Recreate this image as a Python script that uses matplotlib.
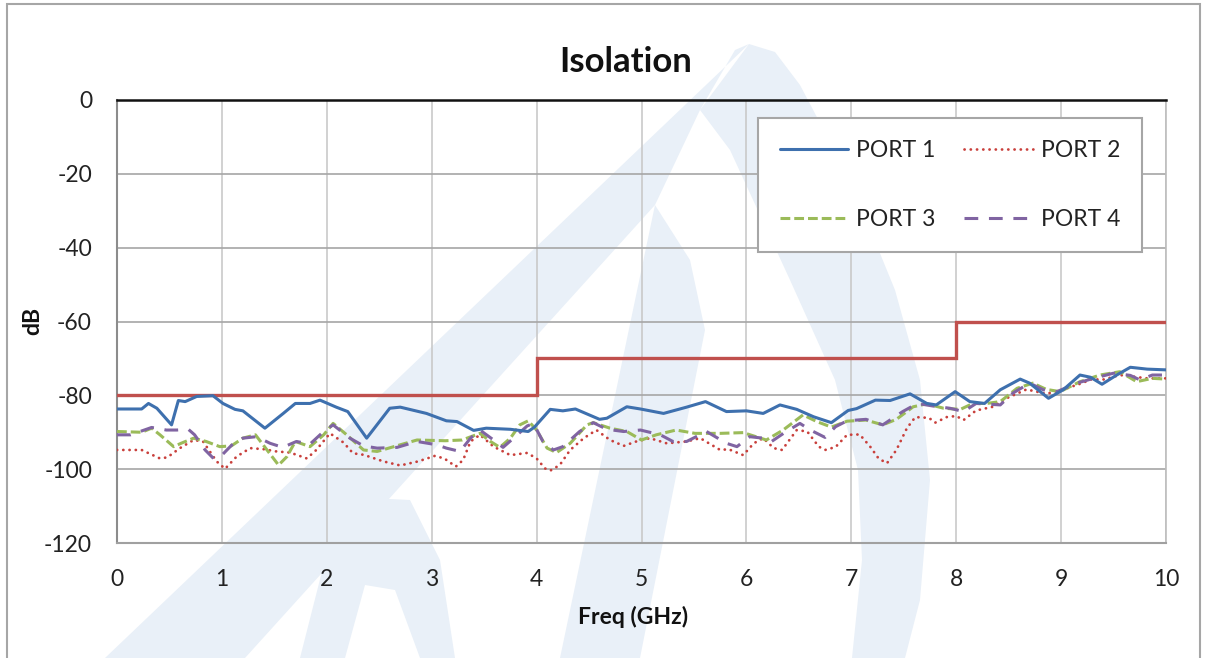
import matplotlib
matplotlib.use("Agg")
import matplotlib.pyplot as plt
from matplotlib.patches import Polygon, Rectangle

# ---------------- data ----------------
title = "Isolation"
x_label = "Freq (GHz)"
y_label = "dB"
x_ticks = [0, 1, 2, 3, 4, 5, 6, 7, 8, 9, 10]
y_ticks = [0, -20, -40, -60, -80, -100, -120]

limit_f = [0, 4, 4, 8, 8, 10]
limit_db = [-80, -80, -70, -70, -60, -60]

port1_f = [0.0, 0.235, 0.30, 0.38, 0.52, 0.585, 0.65, 0.76, 0.915, 1.01, 1.125, 1.20, 1.41, 1.585,
           1.70, 1.84, 1.935, 2.09, 2.20, 2.38, 2.44, 2.60, 2.70, 2.95, 3.14, 3.24, 3.40, 3.52, 3.75,
           3.92, 3.98, 4.13, 4.25, 4.37, 4.60, 4.67, 4.86, 4.99, 5.21, 5.43, 5.61, 5.81, 6.00, 6.16,
           6.32, 6.48, 6.64, 6.81, 6.97, 7.05, 7.23, 7.37, 7.56, 7.72, 7.81, 7.99, 8.13, 8.27, 8.42,
           8.61, 8.70, 8.88, 9.02, 9.18, 9.28, 9.39, 9.53, 9.66, 9.82, 10.0]
port1_db = [-83.7, -83.7, -82.2, -83.5, -88.0, -81.4, -81.7, -80.3, -80.1, -82.2, -83.8, -84.2, -88.9, -84.9,
            -82.2, -82.2, -81.3, -83.2, -84.4, -91.6, -89.4, -83.5, -83.2, -84.9, -86.9, -87.1, -89.5, -88.9, -89.2,
            -89.8, -88.6, -83.8, -84.2, -83.7, -86.5, -86.2, -83.1, -83.7, -84.9, -83.2, -81.7, -84.4, -84.2, -84.9,
            -82.6, -83.8, -85.8, -87.4, -84.1, -83.6, -81.3, -81.4, -79.6, -82.2, -82.6, -79.0, -81.7, -82.2, -78.5,
            -75.6, -76.7, -80.8, -78.5, -74.5, -75.1, -77.0, -74.5, -72.4, -72.9, -73.1]

port2_f = [0.0, 0.235, 0.41, 0.48, 0.60, 0.73, 0.82, 0.95, 1.03, 1.14, 1.27, 1.40, 1.52, 1.65, 1.81, 1.90,
           2.03, 2.16, 2.25, 2.35, 2.54, 2.70, 2.87, 3.03, 3.12, 3.23, 3.30, 3.37, 3.46, 3.59, 3.75, 3.91,
           4.00, 4.08, 4.13, 4.22, 4.32, 4.45, 4.57, 4.70, 4.83, 4.95, 5.08, 5.24, 5.43, 5.56, 5.75, 5.83,
           5.97, 6.07, 6.16, 6.26, 6.34, 6.48, 6.58, 6.69, 6.75, 6.85, 6.96, 7.08, 7.18, 7.26, 7.34, 7.43,
           7.53, 7.61, 7.74, 7.80, 7.91, 8.00, 8.07, 8.19, 8.35, 8.48, 8.67, 8.86, 9.02, 9.21, 9.28, 9.41,
           9.56, 9.68, 9.82, 10.0]
port2_db = [-94.8, -94.8, -97.1, -96.8, -94.3, -92.1, -92.5, -97.9, -99.9, -96.6, -94.3, -94.6, -95.2, -95.5, -97.1, -94.8,
            -90.3, -92.8, -95.7, -96.1, -97.9, -99.0, -97.9, -96.4, -97.1, -99.3, -97.5, -92.5, -90.7, -93.9, -96.2, -95.6,
            -97.1, -99.8, -100.4, -98.9, -94.8, -91.6, -89.4, -92.1, -93.7, -92.5, -91.6, -93.0, -92.5, -91.6, -94.8, -94.6,
            -96.2, -93.0, -91.6, -94.3, -94.8, -89.4, -89.8, -93.9, -94.8, -94.0, -90.7, -90.6, -93.9, -97.1, -98.4, -94.8,
            -88.9, -85.9, -86.1, -87.4, -85.9, -85.6, -86.7, -84.1, -83.1, -80.8, -78.4, -79.6, -78.4, -76.6, -75.7, -75.7,
            -74.5, -74.9, -75.4, -75.4]

port3_f = [0.0, 0.235, 0.33, 0.41, 0.54, 0.61, 0.73, 0.85, 0.98, 1.09, 1.20, 1.32, 1.43, 1.54, 1.62, 1.70,
           1.84, 1.97, 2.06, 2.19, 2.35, 2.48, 2.70, 2.86, 3.13, 3.29, 3.46, 3.56, 3.65, 3.75, 3.84, 3.92,
           4.00, 4.10, 4.19, 4.32, 4.48, 4.54, 4.70, 4.86, 5.00, 5.14, 5.33, 5.51, 5.75, 5.97, 6.19, 6.35,
           6.54, 6.67, 6.81, 6.96, 7.14, 7.30, 7.43, 7.59, 7.72, 7.88, 8.04, 8.16, 8.29, 8.42, 8.58, 8.73,
           8.86, 8.99, 9.18, 9.37, 9.56, 9.72, 9.87, 10.0]
port3_db = [-89.8, -90.0, -88.9, -90.7, -93.9, -93.0, -91.6, -92.5, -93.9, -93.7, -91.6, -90.7, -94.8, -98.9, -96.6, -92.5,
            -93.9, -90.7, -87.6, -90.7, -94.8, -95.2, -93.4, -92.1, -92.3, -92.1, -90.3, -92.5, -94.1, -91.6, -88.0, -86.9,
            -89.4, -94.3, -95.5, -93.0, -88.0, -87.4, -88.9, -89.8, -92.1, -90.7, -89.4, -90.3, -90.3, -90.1, -92.1, -89.4,
            -85.3, -87.1, -88.6, -87.0, -86.7, -88.0, -86.5, -83.1, -82.3, -83.5, -83.8, -82.2, -82.2, -81.7, -78.1, -76.7,
            -78.4, -79.0, -76.3, -74.5, -73.6, -76.3, -75.4, -75.6]

port4_f = [0.0, 0.13, 0.33, 0.47, 0.57, 0.68, 0.74, 0.84, 0.92, 1.00, 1.11, 1.20, 1.33, 1.46, 1.58, 1.71,
           1.84, 1.97, 2.06, 2.22, 2.35, 2.48, 2.67, 2.86, 3.05, 3.14, 3.27, 3.37, 3.46, 3.59, 3.68, 3.78,
           3.91, 3.97, 4.06, 4.16, 4.25, 4.41, 4.54, 4.67, 4.83, 4.99, 5.18, 5.30, 5.43, 5.62, 5.81, 5.91,
           6.03, 6.16, 6.24, 6.38, 6.51, 6.61, 6.75, 6.85, 6.96, 7.14, 7.30, 7.49, 7.63, 7.78, 7.94, 8.07,
           8.19, 8.42, 8.54, 8.70, 8.83, 8.96, 9.15, 9.31, 9.50, 9.66, 9.75, 9.87, 10.0]
port4_db = [-90.7, -90.7, -88.7, -89.4, -89.4, -89.2, -90.7, -94.8, -97.1, -96.2, -93.0, -91.6, -91.2, -93.0, -94.1, -92.5,
            -93.2, -89.8, -88.0, -91.6, -93.7, -94.3, -94.1, -92.5, -93.4, -94.3, -95.2, -91.6, -89.4, -92.1, -94.1, -91.6,
            -88.3, -87.6, -92.5, -94.8, -93.9, -89.8, -87.4, -89.2, -89.8, -89.4, -90.7, -92.5, -92.5, -89.8, -93.0, -93.9,
            -91.2, -91.6, -92.5, -89.8, -87.6, -89.4, -91.4, -88.5, -86.9, -86.5, -88.0, -84.4, -82.2, -82.9, -83.5, -84.4,
            -82.2, -82.6, -79.4, -76.7, -78.5, -79.0, -76.7, -75.4, -74.0, -74.6, -75.8, -74.5, -74.5]

# ---------------- figure ----------------
W, H = 1205, 658
plt.rcParams['font.family'] = ['Lato', 'DejaVu Sans']
fig = plt.figure(figsize=(W / 100, H / 100), dpi=100)
fig.patch.set_facecolor('white')

def fx(px):
    return px / W

def fy(py):
    return 1 - py / H

# watermark (light logo shapes behind the chart)
wm_color = '#E9F0F8'
wm_shapes = [
    [(105, 658), (245, 658), (655, 205), (700, 110), (735, 50), (749, 44)],
    [(749, 44), (775, 52), (800, 85), (850, 180), (895, 290), (920, 380), (930, 480), (920, 600),
     (905, 658), (852, 658), (862, 560), (858, 470), (835, 380), (790, 280), (730, 150), (700, 110)],
    [(560, 658), (655, 205), (690, 260), (705, 330), (640, 658)],
    [(300, 658), (330, 540), (370, 498), (410, 500), (440, 560), (455, 658), (420, 658), (395, 590),
     (365, 585), (345, 658)],
]
for shp in wm_shapes:
    fig.patches.append(Polygon([(fx(x), fy(y)) for x, y in shp], closed=True,
                               transform=fig.transFigure, facecolor=wm_color,
                               edgecolor='none', zorder=0))

# outer chart border
fig.patches.append(Rectangle((fx(7), fy(700)), fx(1200) - fx(7), fy(4) - fy(700),
                             transform=fig.transFigure, facecolor='none',
                             edgecolor='#A6A6A6', linewidth=1.5, zorder=1))

left, right, top, bottom = 117, 1166, 100, 543
ax = fig.add_axes([fx(left), fy(bottom), fx(right) - fx(left), fy(top) - fy(bottom)])
ax.set_facecolor('none')
ax.set_zorder(2)

fs = 16.5
ax.set_xlim(0, 10)
ax.set_ylim(-120, 0)
ax.set_xticks(x_ticks)
ax.set_yticks(y_ticks)
ax.set_xticklabels([str(t) for t in x_ticks], fontsize=fs, color='#222222')
ax.set_yticklabels([str(t) for t in y_ticks], fontsize=fs, color='#222222')
ax.tick_params(axis='x', length=0, pad=18.5)
ax.tick_params(axis='y', length=0, pad=18)

for xv in x_ticks[1:]:
    ax.axvline(xv, color='#C9C9C9', linewidth=1.2, zorder=1)
for yv in y_ticks[1:-1]:
    ax.axhline(yv, color='#A6A6A6', linewidth=1.2, zorder=1)

ax.spines['top'].set_color('#111111')
ax.spines['top'].set_linewidth(1.8)
ax.spines['left'].set_color('#8C8C8C')
ax.spines['left'].set_linewidth(1.5)
ax.spines['bottom'].set_color('#A0A0A0')
ax.spines['bottom'].set_linewidth(1.5)
ax.spines['right'].set_color('#BDBDBD')
ax.spines['right'].set_linewidth(1.2)

lw = 2.2
ax.plot(limit_f, limit_db, color='#C0504D', linewidth=2.4, solid_joinstyle='miter', zorder=3)
l1, = ax.plot(port1_f, port1_db, color='#3E70AE', linewidth=lw, solid_joinstyle='round',
              solid_capstyle='round', label='PORT 1', zorder=5)
l2, = ax.plot(port2_f, port2_db, color='#C9403C', linewidth=2.0, linestyle=(0, (0.05, 2.2)),
              dash_capstyle='round', label='PORT 2', zorder=4)
l3, = ax.plot(port3_f, port3_db, color='#9BBB59', linewidth=lw, linestyle=(0, (3.2, 1.3)),
              dash_joinstyle='round', label='PORT 3', zorder=4)
l4, = ax.plot(port4_f, port4_db, color='#8064A2', linewidth=lw, linestyle=(0, (4.5, 3.5)),
              dash_joinstyle='round', label='PORT 4', zorder=4)

leg = ax.legend(handles=[l1, l3, l2, l4], ncol=2, loc='center',
                bbox_to_anchor=((950 - left) / (right - left), (bottom - 185) / (bottom - top)),
                prop={'size': fs}, frameon=True, fancybox=False, shadow=False,
                handlelength=3.0, handletextpad=0.35, columnspacing=1.25,
                labelspacing=2.1, borderpad=0.95, borderaxespad=0)
leg.get_frame().set_edgecolor('#A6A6A6')
leg.get_frame().set_linewidth(1.5)
leg.get_frame().set_facecolor('white')
leg.get_frame().set_alpha(1)
for t in leg.get_texts():
    t.set_color('#222222')

fig.text(fx(626), fy(62), title, fontsize=25, fontweight='bold', ha='center', va='center',
         color='#111111')
fig.text(fx(633), fy(617), x_label, fontsize=fs, fontweight='bold', ha='center', va='center',
         color='#111111')
fig.text(fx(33), fy(321), y_label, fontsize=fs, fontweight='bold', ha='center', va='center',
         rotation=90, color='#111111')

fig.savefig('out.png', dpi=100, facecolor='white')
